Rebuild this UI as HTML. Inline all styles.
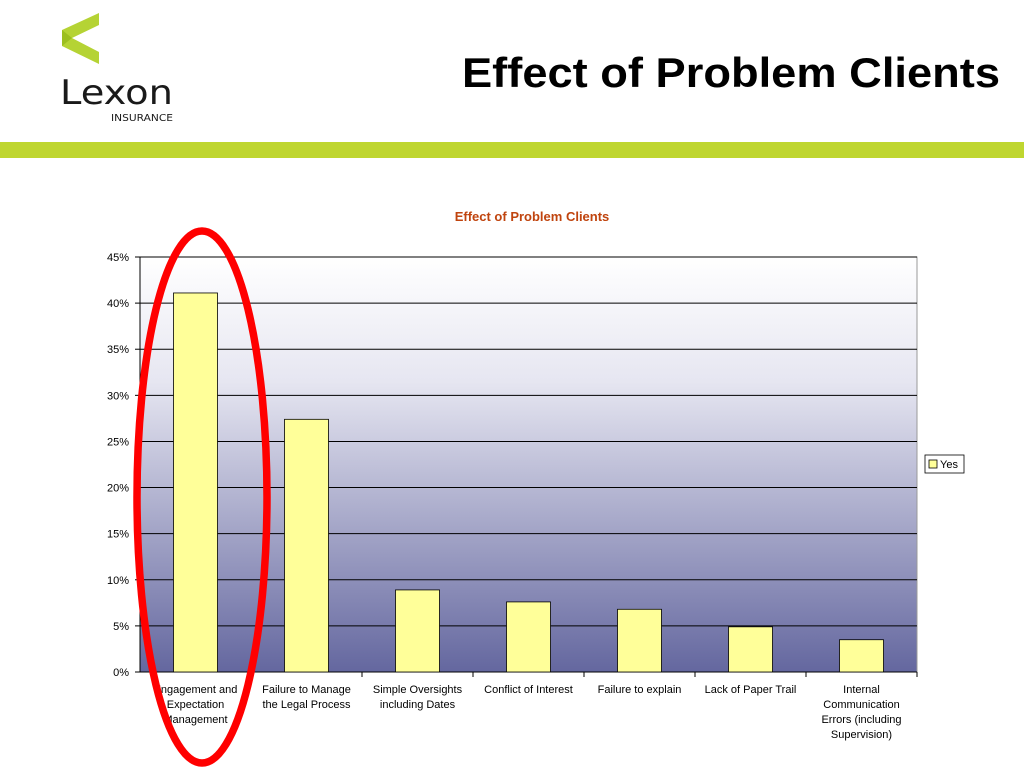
<!DOCTYPE html>
<html><head><meta charset="utf-8"><style>
body{margin:0;width:1024px;height:768px;background:#fff;font-family:"Liberation Sans",sans-serif;overflow:hidden;position:relative}
</style></head><body>
<svg style="position:absolute;left:0;top:0" width="240" height="130">
<polygon points="62,30 99,13 99,25 72,38 99,52 99,64 62,46" fill="#b5d334"/>
<polygon points="62,30 72,38 62,46" fill="#9cbf1f"/>
<text x="60" y="104" font-size="34" font-family="DejaVu Sans,sans-serif" fill="#1a1a1a" textLength="113" lengthAdjust="spacingAndGlyphs">Lexon</text>
<text x="111" y="121" font-size="9.5" font-family="DejaVu Sans,sans-serif" fill="#1a1a1a" textLength="62" lengthAdjust="spacingAndGlyphs">INSURANCE</text>
</svg>
<svg style="position:absolute;left:0;top:0" width="1024" height="110">
<text x="462" y="87" font-size="42" font-weight="bold" font-family="Liberation Sans,sans-serif" fill="#000" textLength="538" lengthAdjust="spacingAndGlyphs">Effect of Problem Clients</text>
</svg>
<div style="position:absolute;left:0;top:142px;width:1024px;height:16px;background:#bfd630"></div>
<svg id="chart" style="position:absolute;left:0;top:0" width="1024" height="768">
<defs><linearGradient id="bg" x1="0" y1="0" x2="0" y2="1"><stop offset="0" stop-color="#ffffff"/><stop offset="0.3" stop-color="#e6e6f1"/><stop offset="1" stop-color="#64679f"/></linearGradient></defs>
<text x="532" y="221" text-anchor="middle" font-size="13" font-weight="bold" fill="#c0440e">Effect of Problem Clients</text>
<rect x="140" y="257" width="777" height="415" fill="url(#bg)" stroke="#999" stroke-width="1"/>
<g id="grid"></g><g id="bars"></g><g id="labels"></g>
<rect x="925" y="455" width="39" height="18" fill="#fff" stroke="#000" stroke-width="0.8"/>
<rect x="929" y="460" width="8" height="8" fill="#ffff99" stroke="#000" stroke-width="0.8"/>
<text x="940" y="468" font-size="11">Yes</text>
<ellipse cx="202" cy="497" rx="65" ry="266" fill="none" stroke="#ff0000" stroke-width="7.5"/>
</svg>
<script>
const categories=[["Engagement and","Expectation","Management"],["Failure to Manage","the Legal Process"],["Simple Oversights","including Dates"],["Conflict of Interest"],["Failure to explain"],["Lack of Paper Trail"],["Internal","Communication","Errors (including","Supervision)"]];
const values=[41.1,27.4,8.9,7.6,6.8,4.9,3.5];
const ticks=[0,5,10,15,20,25,30,35,40,45];
const X0=140,W=777,Y0=672,H=415,MAX=45;
const y=v=>Y0-v/MAX*H;
const cw=W/categories.length;
const xc=i=>X0+cw*(i+0.5);
const NS="http://www.w3.org/2000/svg";
function mk(t,a,p,txt){const e=document.createElementNS(NS,t);for(const k in a)e.setAttribute(k,a[k]);if(txt!==undefined)e.textContent=txt;p.appendChild(e);return e;}
const g=document.getElementById('grid'),b=document.getElementById('bars'),l=document.getElementById('labels');
ticks.forEach(t=>{
 if(t>0){const ln=mk('line',{x1:X0,x2:X0+W,y1:y(t),y2:y(t),stroke:'#000','stroke-width':1},g);
 
 }
 const tk=mk('line',{x1:X0-5,x2:X0,y1:y(t),y2:y(t),stroke:'#000'},g);
 
 
 const tx=mk('text',{x:X0-11,y:y(t)+4,'text-anchor':'end','font-size':11},l,t+'%');
 
 
});
mk('line',{x1:X0,x2:X0,y1:y(MAX),y2:Y0,stroke:'#000'},g);
mk('line',{x1:X0,x2:X0+W,y1:Y0,y2:Y0,stroke:'#000'},g);
values.forEach((v,i)=>{
 const r=mk('rect',{x:xc(i)-22,y:y(v),width:44,height:Y0-y(v),fill:'#ffff99',stroke:'#000','stroke-width':0.8},b);
 
 
 const tk=mk('line',{x1:X0+cw*(i+1),x2:X0+cw*(i+1),y1:Y0,y2:Y0+5,stroke:'#000'},g);
 
 
 categories[i].forEach((s,j)=>{
  const t=mk('text',{x:xc(i),y:693+j*15,'text-anchor':'middle','font-size':11},l,s);
  
  
 });
});
</script>
</body></html>
